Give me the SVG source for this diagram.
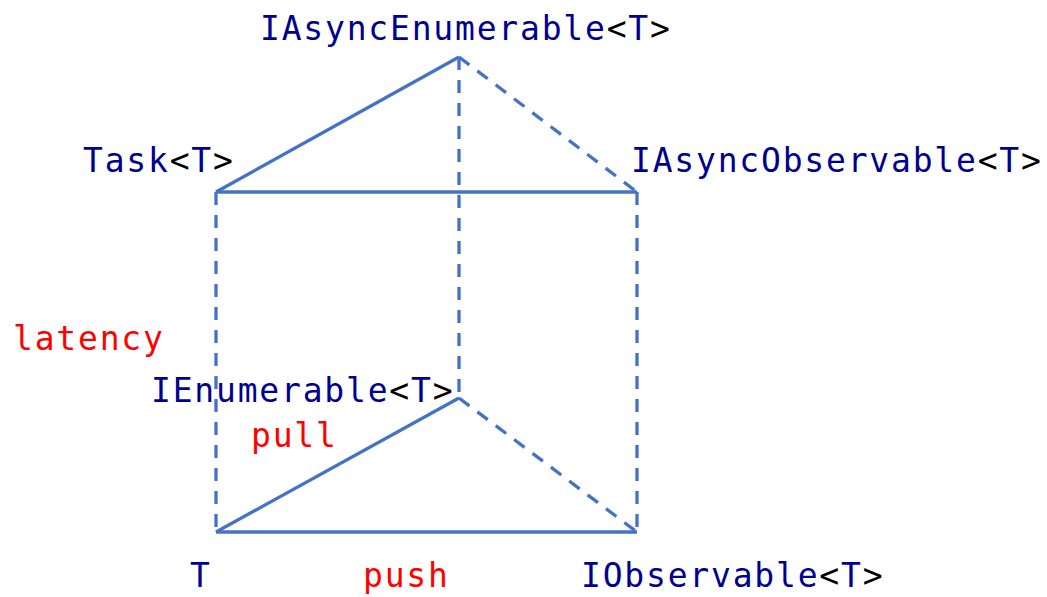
<svg xmlns="http://www.w3.org/2000/svg" width="1047" height="597" viewBox="0 0 1047 597">
<style>
.t{font-family:"DejaVu Sans Mono","Liberation Mono",monospace;font-size:33px;letter-spacing:1.8px;fill:#000090}
.b{fill:#000000}
.r{fill:#FF0000}
.s{stroke:#4472C4;stroke-width:3.3;fill:none}
.d{stroke-dasharray:13 10}
</style>
<rect width="1047" height="597" fill="#ffffff"/>
<g id="connectors">
<line class="s d" x1="216" y1="192" x2="216" y2="532"/>
<line class="s d" x1="637" y1="192" x2="637" y2="532"/>
<line class="s d" x1="459" y1="57" x2="459" y2="398"/>
<line class="s d" x1="459" y1="57" x2="637" y2="192"/>
<line class="s d" x1="459" y1="398" x2="637" y2="532"/>
<line class="s" x1="459" y1="57" x2="216" y2="192"/>
<line class="s" x1="216" y1="192" x2="637" y2="192"/>
<line class="s" x1="459" y1="398" x2="216" y2="532"/>
<line class="s" x1="216" y1="532" x2="637" y2="532"/>
</g>
<g id="n-iasyncenumerable"><text class="t" x="260" y="40">IAsyncEnumerable<tspan class="b">&lt;</tspan>T<tspan class="b">&gt;</tspan></text></g>
<g id="n-task"><text class="t" x="83" y="172">Task<tspan class="b">&lt;</tspan>T<tspan class="b">&gt;</tspan></text></g>
<g id="n-iasyncobservable"><text class="t" x="631" y="172">IAsyncObservable<tspan class="b">&lt;</tspan>T<tspan class="b">&gt;</tspan></text></g>
<g id="n-ienumerable"><text class="t" x="151" y="402">IEnumerable<tspan class="b">&lt;</tspan>T<tspan class="b">&gt;</tspan></text></g>
<g id="n-t"><text class="t" x="190" y="587">T</text></g>
<g id="n-iobservable"><text class="t" x="581" y="587">IObservable<tspan class="b">&lt;</tspan>T<tspan class="b">&gt;</tspan></text></g>
<g id="labels">
<text class="t r" x="13" y="350">latency</text>
<text class="t r" x="251" y="447">pull</text>
<text class="t r" x="363" y="587">push</text>
</g>
</svg>
